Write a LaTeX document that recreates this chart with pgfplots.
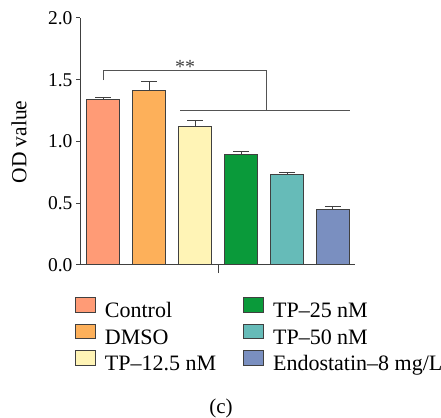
\documentclass[border=0pt]{standalone}
\usepackage{pgfplots}
\pgfplotsset{compat=1.18}
\usepackage{fontspec}
\setmainfont{Liberation Serif}
\definecolor{cA}{HTML}{FF9B76}
\definecolor{cB}{HTML}{FDB05A}
\definecolor{cC}{HTML}{FFF4B6}
\definecolor{cD}{HTML}{0A9A3A}
\definecolor{cE}{HTML}{66BBB8}
\definecolor{cF}{HTML}{7A8FC0}
\definecolor{edge}{HTML}{404040}
\pgfplotsset{
  mybar/.style={ybar, bar width=33pt, bar shift=0pt, fill=#1, draw=edge, line width=1pt,
    legend image code/.code={\draw[fill=#1, draw=edge, line width=0.9pt] (0pt,0.5pt) rectangle (20pt,15pt);},
    error bars/.cd, y dir=plus, y explicit,
    error bar style={draw=edge, line width=1pt},
    error mark options={rotate=90, draw=edge, line width=1pt, mark size=8pt}},
}
\begin{document}
\begin{tikzpicture}[x=1pt,y=1pt]
\useasboundingbox (0pt,0pt) rectangle (441pt,417pt);
\begin{axis}[
  at={(80pt,152pt)}, anchor=south west,
  scale only axis, width=275pt, height=247pt,
  xmin=-0.51, xmax=5.48, ymin=0, ymax=2,
  axis x line*=bottom, axis y line*=left,
  axis line style={draw=edge, line width=1pt},
  ytick={0,0.5,1,1.5,2},
  tick label style={font=\fontsize{19.5}{21}\selectfont},
  /pgf/number format/.cd, fixed, fixed zerofill, precision=1, assume math mode=true, /pgfplots/.cd,
  xtick={2.5}, xticklabels={},
  tick align=outside, major tick length=4pt,
  tick style={draw=edge, line width=1pt},
  xtick style={/pgfplots/major tick length=8pt},
  ylabel={OD value},
  ylabel style={at={(axis description cs:-0.222,0.498)}, anchor=center, font=\fontsize{21.5}{23}\selectfont},
  clip=false,
  legend columns=3, transpose legend,
  legend cell align=left,
  legend style={draw=none, fill=none, inner sep=0pt, outer sep=0pt,
    at={(axis description cs:-0.018,-0.130)}, anchor=north west,
    font=\fontsize{22}{24}\selectfont,
    nodes={inner sep=0pt, text height=15pt, text depth=5pt},
    row sep=1pt,
    /tikz/every odd column/.append style={column sep=9pt},
    /tikz/every even column/.append style={column sep=27pt}},
]
\addplot[mybar=cA] coordinates {(0,1.344) +- (0,0.016)};
\addlegendentry{Control}
\addplot[mybar=cB] coordinates {(1,1.411) +- (0,0.073)};
\addlegendentry{DMSO}
\addplot[mybar=cC] coordinates {(2,1.120) +- (0,0.048)};
\addlegendentry{TP–12.5 nM}
\addplot[mybar=cD] coordinates {(3,0.896) +- (0,0.027)};
\addlegendentry{TP–25 nM}
\addplot[mybar=cE] coordinates {(4,0.734) +- (0,0.011)};
\addlegendentry{TP–50 nM}
\addplot[mybar=cF] coordinates {(5,0.453) +- (0,0.017)};
\addlegendentry{Endostatin–8 mg/L}
\draw[edge!90, line width=1pt] (axis cs:0,1.496) -- (axis cs:0,1.571) -- (axis cs:3.55,1.571) -- (axis cs:3.55,1.255);
\draw[edge!90, line width=1pt] (axis cs:1.67,1.255) -- (axis cs:5.37,1.255);
\node[text=edge, anchor=base, font=\fontsize{20}{22}\selectfont] at (axis cs:1.78,1.547) {**};
\end{axis}
\node[font=\fontsize{21}{23}\selectfont] at (221pt,9pt) {(c)};
\end{tikzpicture}
\end{document}
